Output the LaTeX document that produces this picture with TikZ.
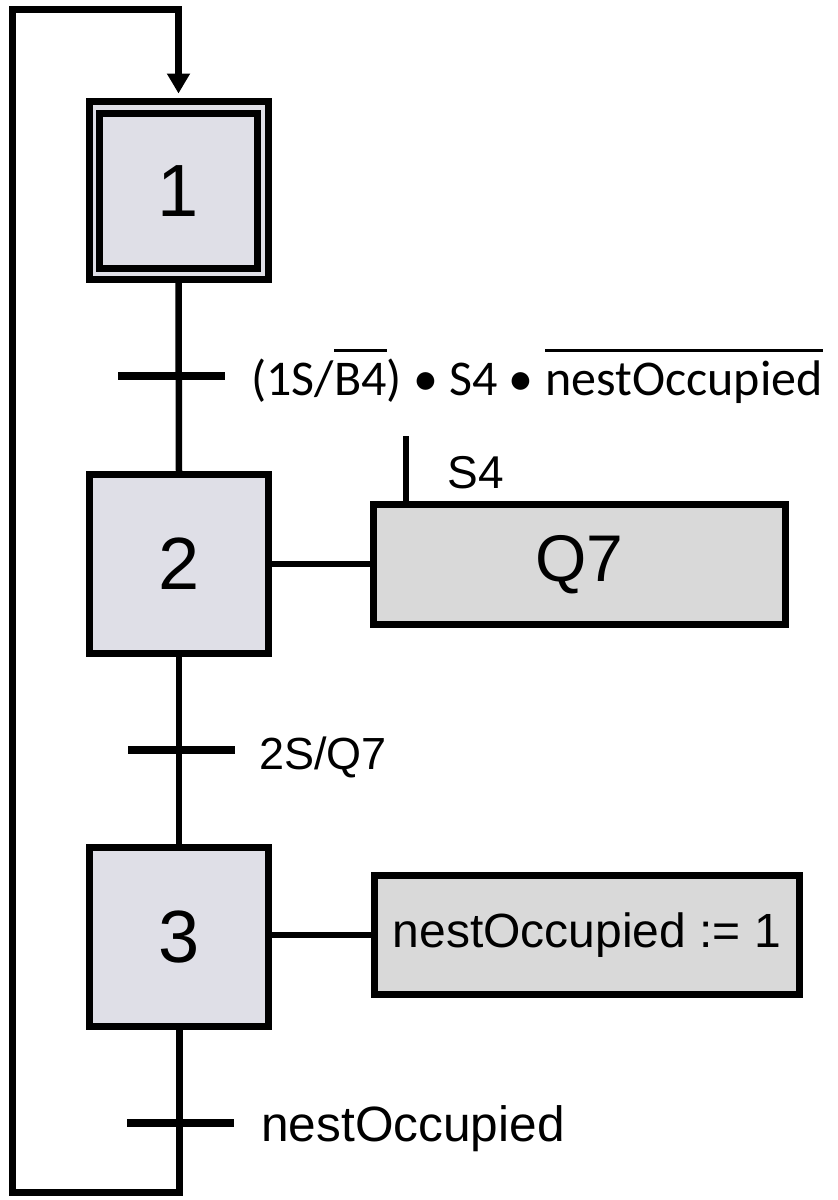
\documentclass[tikz,border=0pt]{standalone}
\usepackage{fontspec}
\setmainfont{Liberation Sans}
\newfontfamily\labelfont{Carlito}
\usetikzlibrary{arrows.meta}

\definecolor{stepfill}{HTML}{DFDFE7}
\definecolor{actfill}{HTML}{D9D9D9}

% negated signal: text with a bar above it
\newsavebox\negsigbox
\newcommand\negsig[1]{\sbox\negsigbox{#1}\rlap{\rule[21.6pt]{\wd\negsigbox}{1.5pt}}\usebox\negsigbox}

\begin{document}
\begin{tikzpicture}[x=0.5pt,y=-0.5pt,
  stepbox/.style={draw, line width=3.5pt, fill=stepfill, inner sep=0pt,
    minimum width=89.5pt, minimum height=89.5pt,
    font=\fontsize{37}{37}\selectfont},
  actbox/.style={draw, line width=3.5pt, fill=actfill, inner sep=0pt},
  link/.style={line width=3.25pt},
  trbar/.style={fill=black, draw=none, inner sep=0pt,
    minimum width=53.5pt, minimum height=4pt},
  lbl/.style={anchor=base west, inner sep=0pt, font=\fontsize{23}{23}\selectfont}]

\useasboundingbox (0,0) rectangle (837,1200);

% initial step (double frame)
\node[stepbox, minimum width=89.5pt, minimum height=89pt] (s1) at (178.5,190) {};
\node[stepbox, minimum width=79pt, minimum height=77.5pt] (s1in) at (178.5,191) {1};

% steps 2 and 3
\node[stepbox] (s2) at (179,564) {2};
\node[stepbox] (s3) at (179,937) {3};

% actions
\node[actbox, minimum width=206pt, minimum height=60pt,
      font=\fontsize{33}{33}\selectfont] (a1) at (579.5,564.5) {Q7};
\node[actbox, minimum width=212.5pt, minimum height=59.5pt,
      font=\fontsize{24}{24}\selectfont] (a2) at (587,935) {nestOccupied := 1};

% sequence links
\draw[link] (s1.south) -- (s2.north);
\draw[link] (s2.south) -- (s3.north);
\draw[link] (s2.east) -- (s2.east -| a1.west);
\draw[link] (s3.east |- a2.west) -- (a2.west);

% return loop to the initial step
\coordinate (lb) at (12,1192);
\coordinate (lt) at (12,9);
\draw[line width=3.5pt, -{Triangle[length=10pt,width=11pt]}, shorten >=2pt]
  (s3.south) |- (lb) -- (lt) -| (s1.north);

% qualifier on action Q7
\coordinate (q) at (406,436);
\draw[link] (q) -- (q |- a1.north);
\node[lbl] (qs) at (447,488) {S4};

% transitions
\node[trbar] (t1) at (171.5,376) {};
\node[trbar] (t2) at (181,750) {};
\node[trbar] (t3) at (180.5,1123) {};

\node[lbl, font=\labelfont\fontsize{25}{25}\selectfont] (t1l) at (251,395)
  {(1S/\negsig{B4})\ \textbullet\ S4\ \textbullet\ \negsig{nestOccupied}};
\node[lbl, font=\fontsize{22.5}{22.5}\selectfont] (t2l) at (259,769) {2S/Q7};
\node[lbl, font=\fontsize{24.8}{24.8}\selectfont] (t3l) at (261,1141) {nestOccupied};
\end{tikzpicture}
\end{document}
